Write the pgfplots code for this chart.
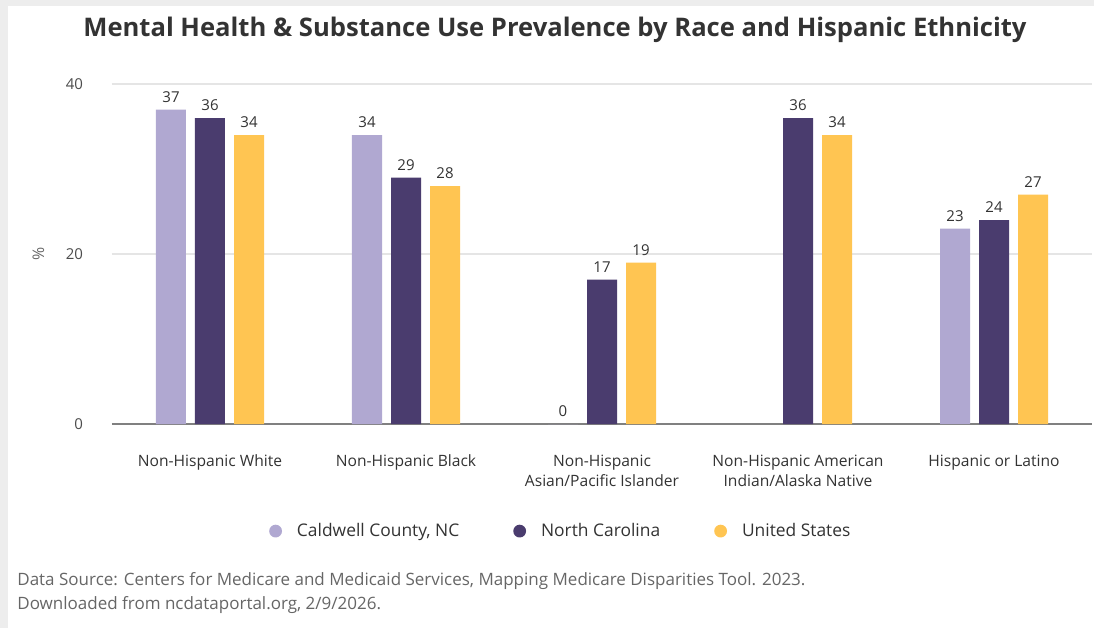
\documentclass[border=0pt]{standalone}
\usepackage{fontspec}
\setmainfont{Open Sans}
\usepackage{pgfplots}
\pgfplotsset{compat=1.18}
\definecolor{cLight}{HTML}{B0A8D1}
\definecolor{cDark}{HTML}{4A3C6E}
\definecolor{cYel}{HTML}{FFC552}
\definecolor{txt}{HTML}{333333}
\definecolor{src}{HTML}{666666}
\begin{document}
\begin{tikzpicture}
\useasboundingbox (0,0) rectangle (547pt,314pt);
\fill[white] (0,0) rectangle (547pt,314pt);
\fill[black!7] (0,0) rectangle (4pt,314pt);
\fill[black!7] (0,311pt) rectangle (547pt,314pt);
\node[font=\bfseries\fontsize{12.8}{14}\selectfont, text=txt] at (277.5pt,299pt) {Mental Health \& Substance Use Prevalence by Race and Hispanic Ethnicity};
\node[anchor=west, inner sep=0pt, font=\fontsize{8.5}{10}\selectfont, text=src] at (8.5pt,23.5pt) {Data Source: Centers for Medicare and Medicaid Services, Mapping Medicare Disparities Tool. 2023.};
\node[anchor=west, inner sep=0pt, font=\fontsize{8.5}{10}\selectfont, text=src] at (8.5pt,11.5pt) {Downloaded from ncdataportal.org, 2/9/2026.};
\begin{axis}[
  at={(56pt,102pt)}, anchor=south west,
  width=490pt, height=170pt, scale only axis,
  xmin=-0.5, xmax=4.5, ymin=0, ymax=40,
  ybar, bar width=15pt,
  /pgf/number format/assume math mode=true,
  axis lines=left, axis line style={-},
  y axis line style={draw=none},
  x axis line style={draw=black!50, line width=1pt},
  ytick={0,20,40},
  xtick={0,1,2,3,4},
  xticklabels={Non-Hispanic White, Non-Hispanic Black, Non-Hispanic\\Asian/Pacific Islander, Non-Hispanic American\\Indian/Alaska Native, Hispanic or Latino},
  major tick length=0pt,
  ymajorgrids, grid style={black!10, line width=0.6pt},
  xticklabel style={align=center, font=\fontsize{7.8}{10}\selectfont, text=txt, yshift=-12pt},
  yticklabel style={font=\fontsize{7.5}{8}\selectfont, text=black!70, xshift=-11pt},
  ylabel={\%},
  ylabel style={at={(axis description cs:-0.075,0.5)}, anchor=center, font=\fontsize{8}{9}\selectfont, text=black!60},
  nodes near coords,
  nodes near coords style={font=\fontsize{7.5}{8}\selectfont, text=txt},
  legend columns=3,
  legend style={at={(0.459,-0.315)}, anchor=center, draw=none, font=\fontsize{8.7}{10}\selectfont, text=txt,
    /tikz/every odd column/.append style={column sep=5.5pt},
    /tikz/every even column/.append style={column sep=25pt}},
]
\addplot[bar shift=-19.5pt, fill=cLight, draw=none,
  legend image code/.code={\fill[cLight] (0pt,0pt) circle (3.2pt);}]
  coordinates {(0,37) (1,34) (2,0) (4,23)};
\addlegendentry{Caldwell County, NC}
\addplot[bar shift=0pt, fill=cDark, draw=none,
  legend image code/.code={\fill[cDark] (0pt,0pt) circle (3.2pt);}]
  coordinates {(0,36) (1,29) (2,17) (3,36) (4,24)};
\addlegendentry{North Carolina}
\addplot[bar shift=19.5pt, fill=cYel, draw=none,
  legend image code/.code={\fill[cYel] (0pt,0pt) circle (3.2pt);}]
  coordinates {(0,34) (1,28) (2,19) (3,34) (4,27)};
\addlegendentry{United States}
\end{axis}
\end{tikzpicture}
\end{document}
